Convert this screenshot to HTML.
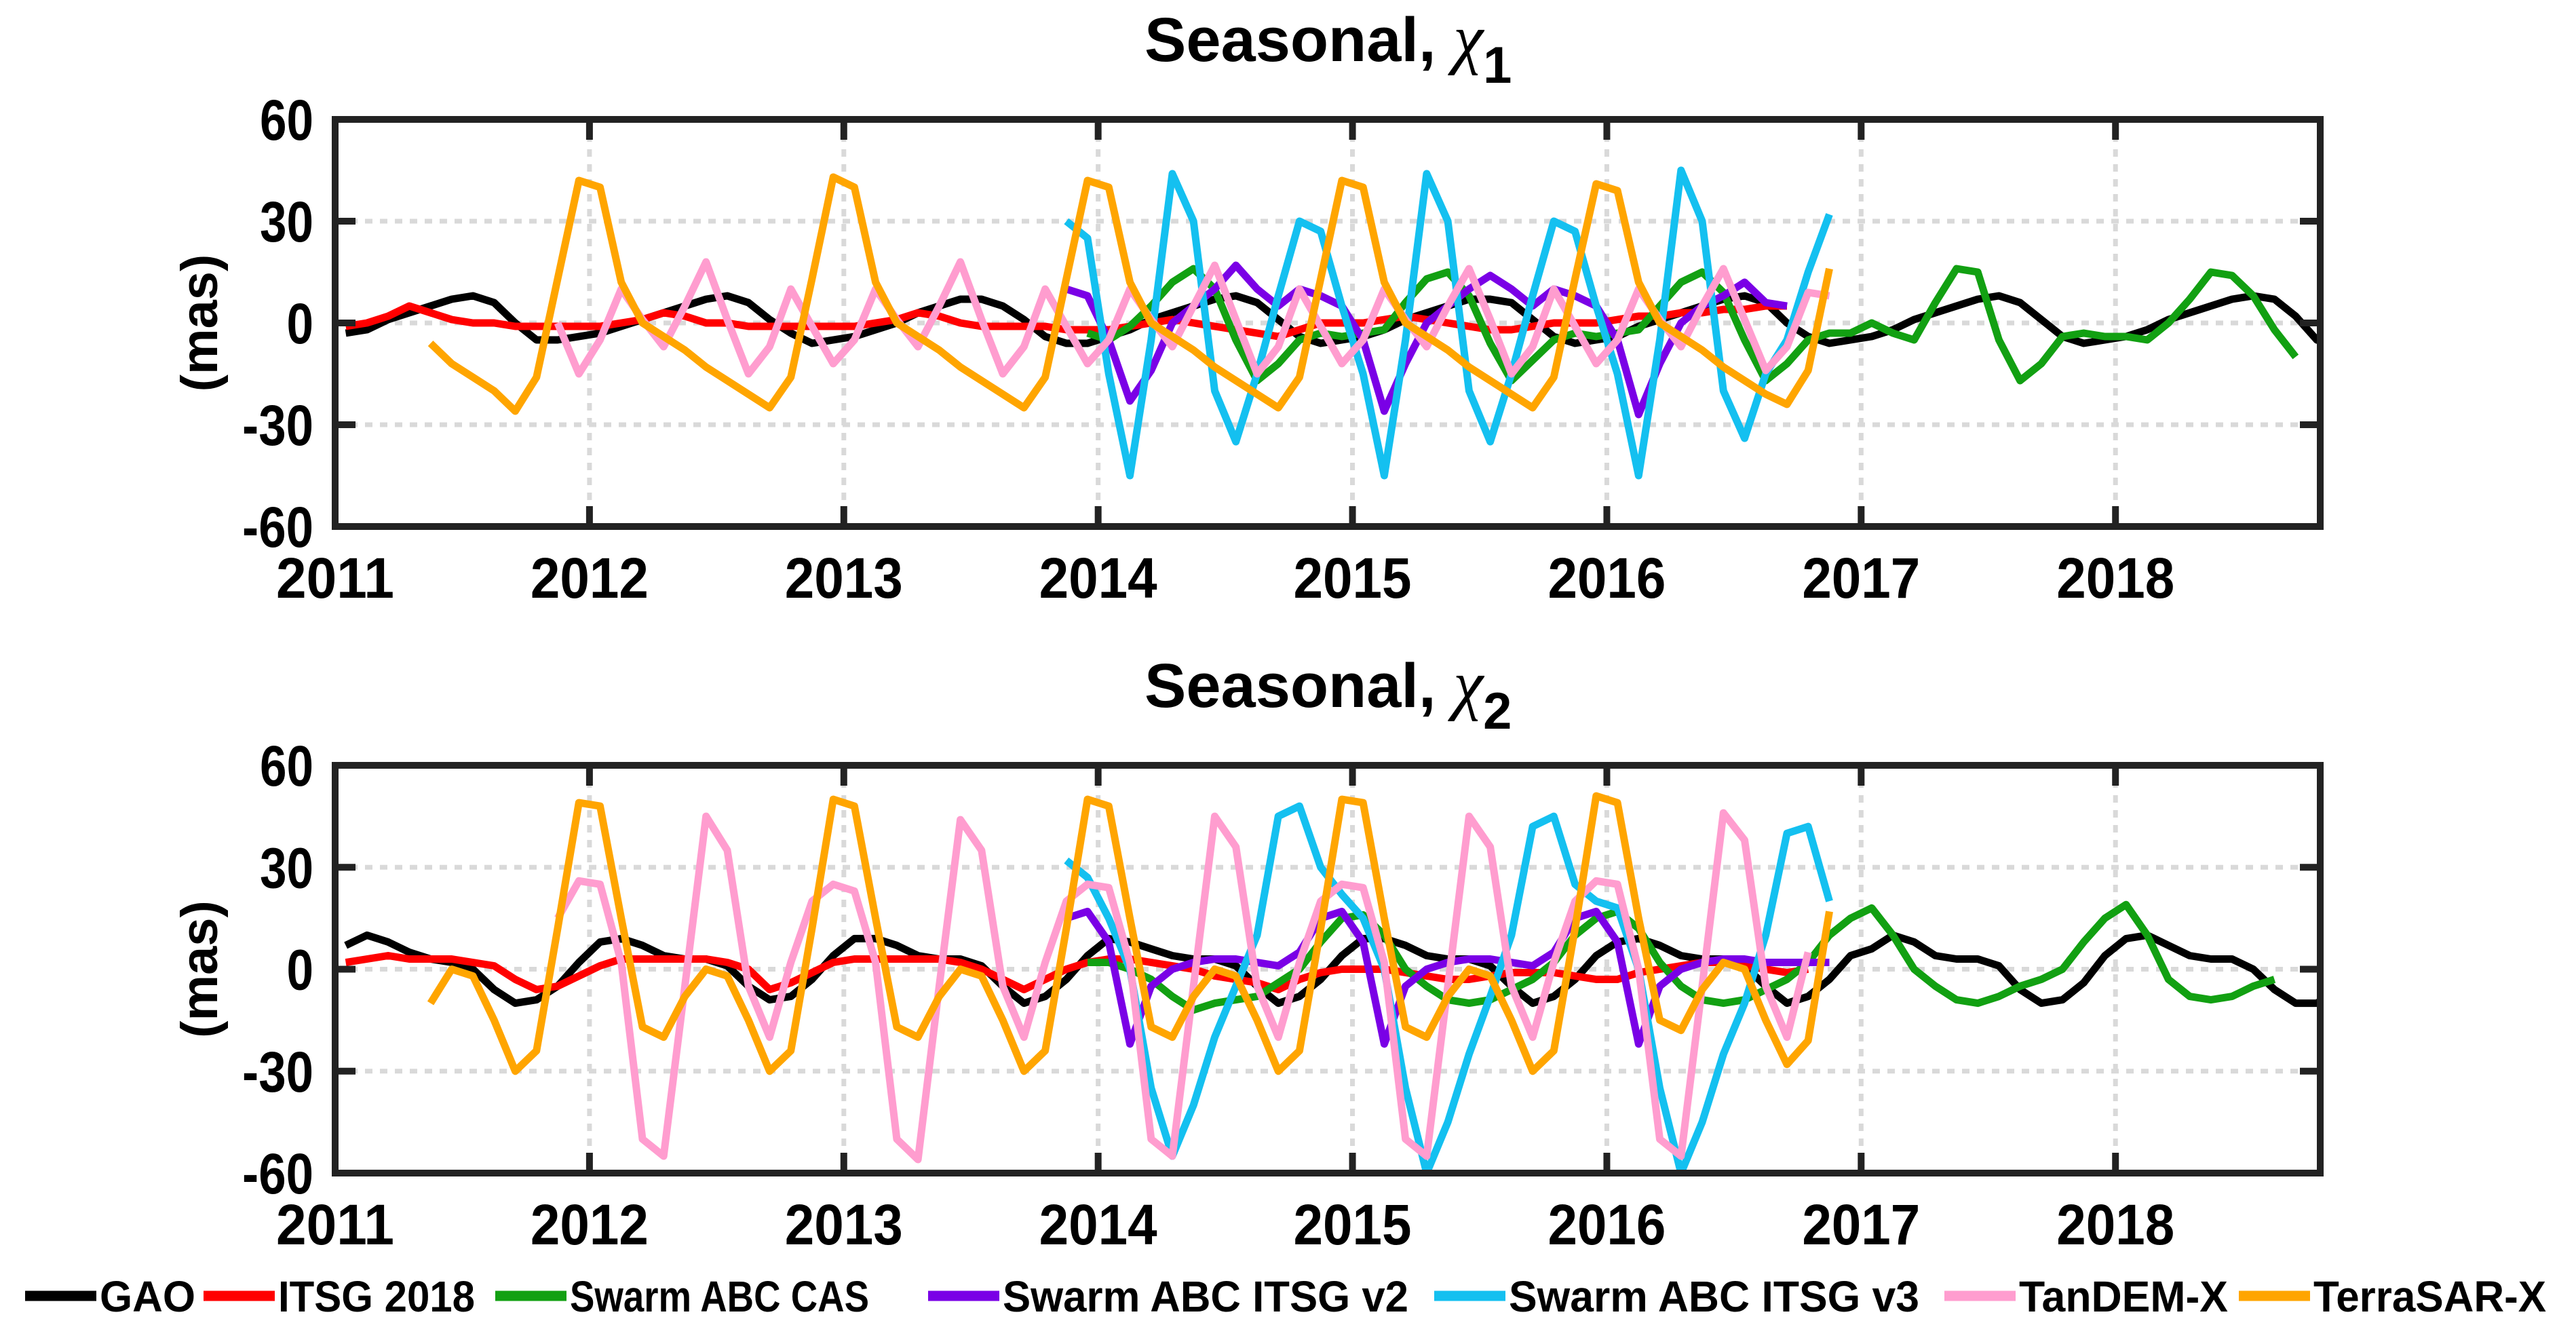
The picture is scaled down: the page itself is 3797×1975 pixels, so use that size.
<!DOCTYPE html>
<html><head><meta charset="utf-8">
<style>
html,body{margin:0;padding:0;background:#fff;}
svg{display:block;}
text{font-family:"Liberation Sans",Arial,sans-serif;font-weight:bold;fill:#000;}
</style></head>
<body>
<svg id="fig" width="3797" height="1975" viewBox="0 0 3797 1975" xmlns="http://www.w3.org/2000/svg">
<defs>
<clipPath id="clip1"><rect x="494" y="176" width="2926" height="600"/></clipPath>
<clipPath id="clip2"><rect x="494" y="1128" width="2926" height="601"/></clipPath>
</defs>
<g id="p1"></g>
<g id="p2"></g>
<g id="legend"></g>
</svg>
<script>
// ---- data (monthly, start index = months since Jan 2011, point at mid-month) ----
const yearTicks = [2011,2012,2013,2014,2015,2016,2017,2018];
const valueTicks = [-60,-30,0,30,60];
const seriesNames = ["GAO","ITSG 2018","Swarm ABC CAS","Swarm ABC ITSG v2","Swarm ABC ITSG v3","TanDEM-X","TerraSAR-X"];
const seriesColors = ["#000000","#ff0000","#12a012","#7a00e6","#14c0f0","#ff9dcf","#ffa500"];

const gaoStart = 0;
const gaoChi1 = [-3,-2,1,3,5,7,8,6,0,-5,-5,-4, -3,-1,1,3,5,7,8,6,1,-3,-6,-5, -4,-2,0,3,5,7,7,5,1,-4,-6,-6, -4,-2,1,3,5,7,8,6,1,-4,-6,-5, -4,-2,1,3,5,7,7,6,1,-4,-6,-5, -4,-1,1,3,5,7,8,6,0,-4,-6,-5, -4,-2,1,3,5,7,8,6,1,-4,-6,-5, -4,-2,1,3,5,7,8,7,2,-5,-7];
const gaoChi2 = [7,10,8,5,3,2,0,-6,-10,-9,-5,2, 8,9,7,4,3,3,1,-5,-9,-8,-3,4, 9,9,7,4,3,3,1,-5,-10,-8,-3,4, 9,8,6,4,3,3,1,-5,-10,-8,-3,4, 9,9,7,4,3,3,1,-5,-10,-8,-3,4, 8,9,7,4,3,3,1,-5,-10,-8,-3,4, 6,10,8,4,3,3,1,-6,-10,-9,-4,4, 9,10,7,4,3,3,0,-6,-10,-10,-6];

const itsgStart = 0;
const itsgChi1 = [-1,0,2,5,3,1,0,0,-1,-1,-1,-1, -1,0,1,3,2,0,0,-1,-1,-1,-1,-1, -1,0,1,3,2,0,-1,-1,-1,-1,-2,-2, -2,-1,0,1,0,-1,-2,-3,-4,-2,0,0, 0,1,2,1,0,-1,-2,-2,-1,0,0,0, 1,2,2,3,3,4,4,5,5];
const itsgChi2 = [2,3,4,3,3,3,2,1,-3,-6,-5,-2, 1,3,3,3,3,3,2,0,-6,-4,-1,2, 3,3,3,3,3,2,0,-3,-6,-3,0,2, 3,3,2,1,0,-2,-3,-4,-6,-3,-1,0, 0,0,-1,-2,-3,-3,-2,-1,-1,-1,-2,-3, -3,-1,0,1,2,2,1,0,-1,0];

const casStart = 35;
const casChi1 = [-3, -5,-1,5,12,16,10,-5,-17,-12,-5,-3,-4, -3,-2,6,13,15,8,-6,-17,-11,-5,-3,-4, -3,-2,5,12,15,9,-5,-17,-12,-5,-3,-3, 0,-3,-5,6,16,15,-5,-17,-12,-4,-3,-4, -4,-5,0,7,15,14,8,-2,-10];
const casChi2 = [2, 2,0,-3,-8,-12,-10,-9,-8,-4,0,8,15, 16,10,0,-5,-9,-10,-9,-6,-3,2,10,15, 17,12,2,-5,-9,-10,-9,-6,-3,2,10,15, 18,10,0,-5,-9,-10,-8,-5,-3,0,8,15, 19,10,-3,-8,-9,-8,-5,-3];

const v2Start = 34;
const v2Chi1 = [10,8, -5,-23,-14,0,5,10,17,10,5,10,8,5, -5,-26,-12,0,5,10,14,10,5,10,8,5, -5,-27,-12,0,5,8,12,6,5];
const v2Chi2 = [15,17, 8,-22,-5,0,2,3,3,2,1,5,15,17, 8,-22,-5,0,2,3,3,2,1,5,15,17, 8,-22,-5,0,2,3,3,2,2,2,2];

const v3Start = 34;
const v3Chi1 = [30,25, -15,-45,-5,44,30,-20,-35,-15,8,30,27,5, -15,-45,-5,44,30,-20,-35,-15,8,30,27,5, -15,-45,-5,45,30,-20,-34,-15,-5,15,32];
const v3Chi2 = [32,27, 15,0,-35,-55,-40,-20,-5,10,45,48,30,22, 15,0,-35,-60,-45,-25,-8,10,42,45,25,20, 18,0,-35,-60,-45,-25,-10,10,40,42,20];

const tdxStart = 10;
const tdxChi1 = [0,-15, -5,10,1,-7,5,18,1,-15,-7,10,-1,-12, -5,10,1,-7,5,18,1,-15,-7,10,-1,-12, -5,10,1,-7,5,17,1,-15,-7,10,-1,-12, -5,10,1,-7,5,16,1,-15,-7,10,-1,-12, -5,10,1,-7,5,16,1,-14,-7,9,8];
const tdxChi2 = [15,26, 25,2,-50,-55,-5,45,35,-5,-20,2,20,25, 23,2,-50,-56,-5,44,35,-5,-20,2,20,25, 24,2,-50,-55,-5,45,36,-5,-20,2,20,25, 24,2,-50,-55,-5,45,36,-5,-20,2,20,26, 25,0,-50,-55,-5,46,38,-5,-20,5];

const tsxStart = 4;
const tsxChi1 = [-6,-12,-16,-20,-26,-16,13,42, 40,12,0,-4,-8,-13,-17,-21,-25,-16,13,43, 40,12,0,-4,-8,-13,-17,-21,-25,-16,13,42, 40,12,0,-4,-8,-13,-17,-21,-25,-16,13,42, 40,12,0,-4,-8,-13,-17,-21,-25,-16,13,41, 39,12,0,-4,-8,-13,-17,-21,-24,-14,16];
const tsxChi2 = [-10,0,-2,-15,-30,-24,12,49, 48,15,-17,-20,-8,0,-2,-15,-30,-24,12,50, 48,15,-17,-20,-8,0,-2,-15,-30,-24,12,50, 48,15,-17,-20,-8,0,-2,-15,-30,-24,12,50, 49,15,-17,-20,-8,0,-2,-15,-30,-24,12,51, 49,15,-15,-18,-6,2,0,-15,-28,-21,17];

// ---- layout ----
const NS = "http://www.w3.org/2000/svg";
const X0 = 494, X1 = 3420, T0 = 2011, T1 = 2018.805;
function xScale(t){ return X0 + (t - T0) / (T1 - T0) * (X1 - X0); }
function mk(tag, attrs, parent){ const e = document.createElementNS(NS, tag); for (const k in attrs) e.setAttribute(k, attrs[k]); parent.appendChild(e); return e; }
function charW(s){ let w = 0; for (const c of String(s)) w += (c === '-') ? 26 : 39.5; return w; }

function panel(g, top, bottom, clipId, titleSub, seriesList, nameSuffix){
  const yScale = v => top + (60 - v) / 120 * (bottom - top);
  yearTicks.forEach(yr => {
    const x = xScale(yr);
    const gl = mk("line", {x1:x, x2:x, y1:top, y2:bottom, stroke:"#d9d9d9", "stroke-width":7, "stroke-dasharray":"11 11"}, g);
    
    
  });
  valueTicks.forEach(v => {
    if (v === 60 || v === -60) return;
    const y = yScale(v);
    const gl = mk("line", {x1:X0, x2:X1, y1:y, y2:y, stroke:"#d9d9d9", "stroke-width":7, "stroke-dasharray":"11 11"}, g);
    
    
  });
  const sg = mk("g", {"clip-path":"url(#" + clipId + ")"}, g);
  seriesList.forEach((s, i) => {
    const pts = s.vals.map((v, k) => xScale(T0 + (s.start + k + 0.5) / 12).toFixed(1) + "," + yScale(v).toFixed(1)).join(" ");
    const pl = mk("polyline", {points:pts, fill:"none", stroke:seriesColors[s.ci], "stroke-width":11, "stroke-linejoin":"round"}, sg);
    
    
  });
  const box = mk("rect", {x:X0, y:top, width:X1-X0, height:bottom-top, fill:"none", stroke:"#222", "stroke-width":10}, g);
  
  
  yearTicks.forEach(yr => {
    const x = xScale(yr);
    mk("line", {x1:x, x2:x, y1:bottom, y2:bottom-30, stroke:"#222", "stroke-width":10}, g);
    mk("line", {x1:x, x2:x, y1:top, y2:top+30, stroke:"#222", "stroke-width":10}, g);
    const tl = mk("text", {x:x-87, y:bottom+105, "font-size":84, fill:"#222", textLength:174, lengthAdjust:"spacingAndGlyphs"}, g);
    tl.textContent = yr;
    
    
  });
  valueTicks.forEach(v => {
    const y = yScale(v);
    mk("line", {x1:X0, x2:X0+30, y1:y, y2:y, stroke:"#222", "stroke-width":10}, g);
    mk("line", {x1:X1, x2:X1-30, y1:y, y2:y, stroke:"#222", "stroke-width":10}, g);
    const w = charW(v);
    const tl = mk("text", {x:462 - w, y:y+30, "font-size":84, fill:"#222", textLength:w, lengthAdjust:"spacingAndGlyphs"}, g);
    tl.textContent = v;
    
    
  });
  const yl = mk("text", {x:0, y:0, "font-size":76, "text-anchor":"middle", fill:"#222", transform:"translate(320," + ((top+bottom)/2) + ") rotate(-90)"}, g);
  yl.textContent = "(mas)";
  
  
  const tt = mk("text", {x:1687, y:top-86, "font-size":92}, g);
  
  
  const t1 = mk("tspan", {}, tt); t1.textContent = "Seasonal, ";
  const t2 = mk("tspan", {"font-family":"Liberation Serif, serif", "font-style":"italic", "font-weight":"normal", "font-size":100}, tt); t2.textContent = "\u03C7";
  const t3 = mk("tspan", {"font-size":76, dy:32}, tt); t3.textContent = titleSub;
}

const chi1List = [
  {ci:0, start:gaoStart, vals:gaoChi1},{ci:1, start:itsgStart, vals:itsgChi1},{ci:2, start:casStart, vals:casChi1},
  {ci:3, start:v2Start, vals:v2Chi1},{ci:4, start:v3Start, vals:v3Chi1},{ci:5, start:tdxStart, vals:tdxChi1},{ci:6, start:tsxStart, vals:tsxChi1}];
const chi2List = [
  {ci:0, start:gaoStart, vals:gaoChi2},{ci:1, start:itsgStart, vals:itsgChi2},{ci:2, start:casStart, vals:casChi2},
  {ci:3, start:v2Start, vals:v2Chi2},{ci:4, start:v3Start, vals:v3Chi2},{ci:5, start:tdxStart, vals:tdxChi2},{ci:6, start:tsxStart, vals:tsxChi2}];

panel(document.getElementById("p1"), 176, 776, "clip1", "1", chi1List, "chi1");
panel(document.getElementById("p2"), 1128, 1729, "clip2", "2", chi2List, "chi2");

const lg = document.getElementById("legend");
const legendLineX = [37, 300, 730, 1368, 2114, 2866, 3300];
const legendTextW = [141, 290, 441, 598, 605, 308, 343];
seriesNames.forEach((n, i) => {
  const x = legendLineX[i];
  const ln = mk("line", {x1:x, x2:x+105, y1:1910, y2:1910, stroke:seriesColors[i], "stroke-width":15}, lg);
  
  
  const tx = mk("text", {x:x+110, y:1933, "font-size":64, textLength:legendTextW[i], lengthAdjust:"spacingAndGlyphs"}, lg);
  tx.textContent = n;
  
  
});
</script>
</body></html>
